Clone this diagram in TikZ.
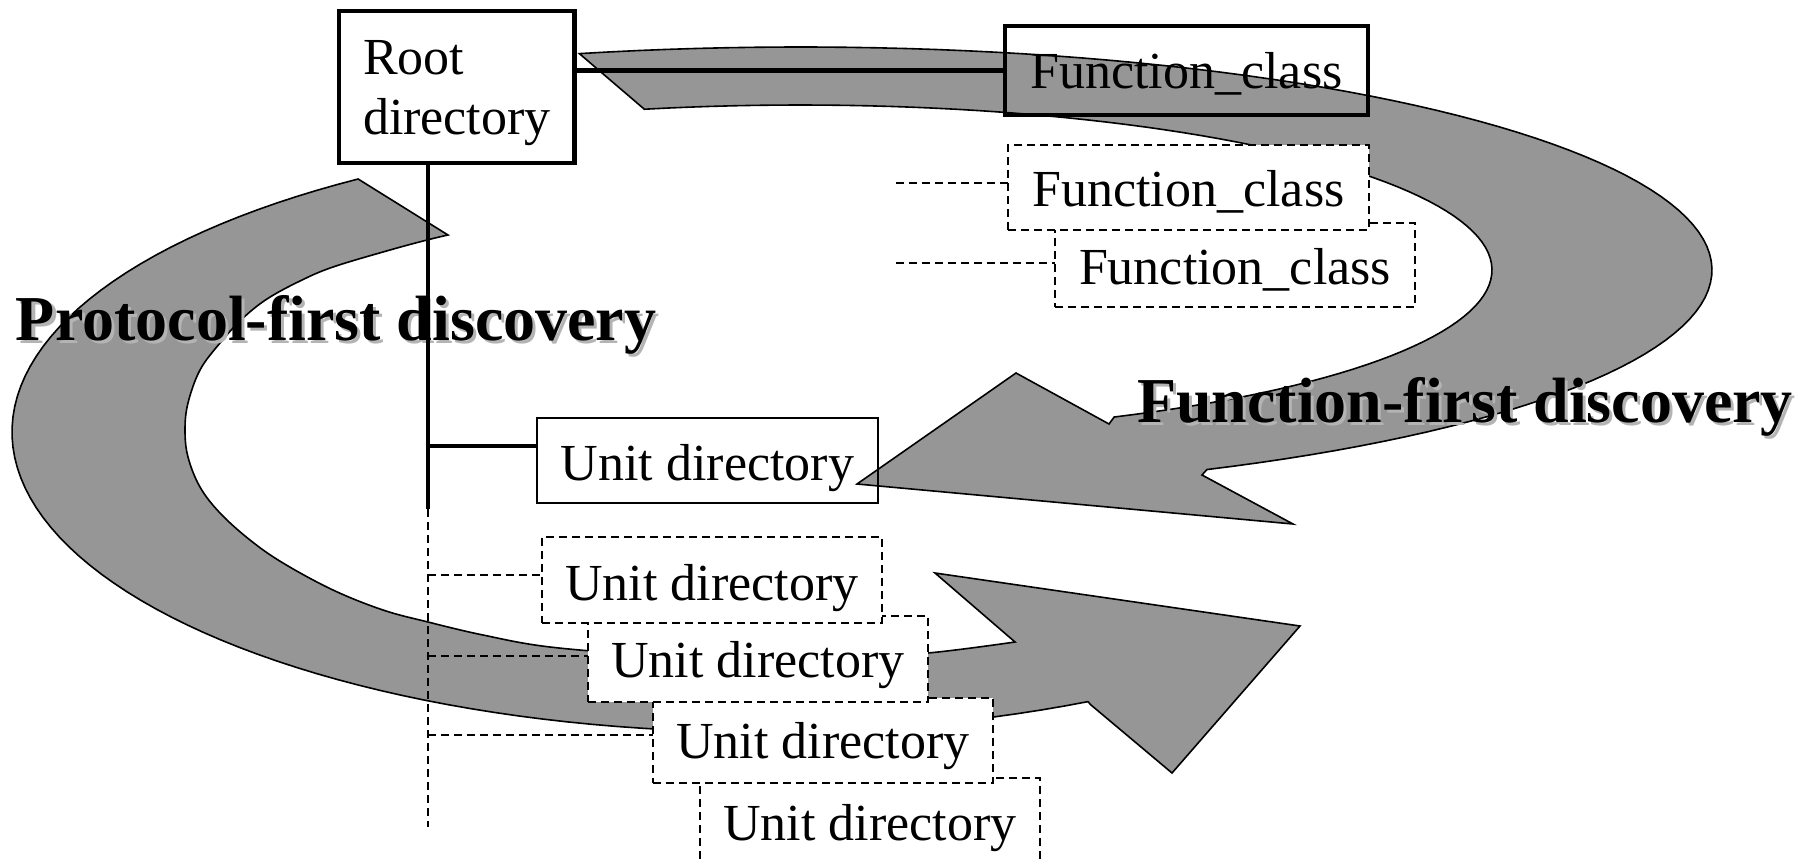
\documentclass[tikz,border=0pt]{standalone}
\usepackage{fontspec}
\setmainfont{Liberation Serif}
\definecolor{arrowgray}{RGB}{150,150,150}
\definecolor{shadowgray}{RGB}{180,180,180}
\begin{document}
\begin{tikzpicture}[x=1pt,y=-1pt,
  every node/.style={inner sep=0pt, outer sep=0pt},
  reg/.style={font=\fontsize{52}{60}\selectfont},
  ubox/.style={reg, draw, anchor=north west, minimum width=340pt, text height=62pt, text depth=24pt},
  thinbox/.style={ubox, line width=1.4pt},
  dbox/.style={ubox, line width=1.6pt, dash pattern=on 8pt off 5pt, fill=white},
  thickbox/.style={reg, draw, line width=4.5pt, anchor=north west},
  bigtxt/.style={font=\fontsize{64}{70}\selectfont\bfseries, anchor=base west},
  shadowtxt/.style={bigtxt, text=shadowgray},
  curved/.style={fill=arrowgray, draw=black, line width=1.6pt, line join=miter},
  thickline/.style={line width=4.5pt},
  dline/.style={line width=1.6pt, dash pattern=on 8pt off 5pt}
]
\useasboundingbox (0,0) rectangle (1806,862);

% Function-first arrow (clockwise, top right)
\draw[curved] plot[domain=-104:63.5, samples=90] ({800+912*cos(\x)},{270+223*sin(\x)})
  -- (1202,475) -- (1293,524) -- (857,484) -- (1016,373) -- (1109,424)
  -- plot[domain=63:-103, samples=90] ({800+692*cos(\x)},{270+165*sin(\x)}) -- cycle;

% Protocol-first arrow (counter-clockwise, left)
\draw[curved] plot[domain=237.5:64, samples=90] ({760+748*cos(\x)},{432+300*sin(\x)})
  -- (1091,705) -- (1172,773) -- (1300,626) -- (935,573) -- (1015,642)
  -- plot[smooth, tension=0.6] coordinates {(1015,642) (928,653) (830,659) (750,660) (660,656) (550,647)
     (483,635) (428,622) (383,610) (333,590) (283,563) (250,540) (220,513) (200,487) (188,457) (185,430)
     (188,403) (200,370) (220,343) (242,319) (267,299) (300,281) (333,267) (390,250) (427,240) (448,235)}
  -- cycle;

% titles with shadows
\node[shadowtxt] (pshadow) at (19,343) {Protocol-first discovery};
\node[bigtxt] (ptxt) at (16,340) {Protocol-first discovery};
\node[shadowtxt] (fshadow) at (1140,425) {Function-first discovery};
\node[bigtxt] (ftxt) at (1137,422) {Function-first discovery};

% boxes
\node[thickbox, align=left, inner xsep=24pt, minimum height=152pt] (root) at (339,11) {\rule{0pt}{47pt}Root\\directory};
\node[thickbox, minimum width=363pt, text height=62pt, text depth=27pt] (fcm) at (1005,26) {Function\_class};
\node[dbox, minimum width=360pt, text height=61pt, text depth=23pt] (fc2) at (1055,223) {Function\_class};
\node[dbox, minimum width=361pt, text height=61pt, text depth=24pt] (fc1) at (1008,145) {Function\_class};

\node[dbox, text depth=30pt] (u4) at (700,778) {Unit directory};
\node[dbox, text height=60pt, text depth=25pt] (u3) at (653,698) {Unit directory};
\node[dbox, text height=61pt, text depth=25pt] (u2) at (588,616) {Unit directory};
\node[dbox, text height=63pt, text depth=23pt] (u1) at (542,537) {Unit directory};
\node[thinbox, minimum width=341pt, text height=62pt, text depth=23pt] (u0) at (537,418) {Unit directory};

% connectors
\coordinate (trunk) at (428,509);
\coordinate (trunkend) at (428,827);
\coordinate (fcstub) at (896,0);
\coordinate (j0) at (428,446);
\draw[thickline] (root.east |- fcm.west) -- (fcm.west);
\draw[thickline] (root.south -| trunk) -- (trunk);
\draw[thickline] (j0) -- (j0 -| u0.west);
\draw[dline] (trunk) -- (trunkend);
\coordinate (c1) at ([yshift=5pt]u1.west);
\coordinate (c2) at ([yshift=3pt]u2.west);
\coordinate (c3) at ([yshift=5.5pt]u3.west);
\draw[dline] (c1 -| trunk) -- (c1);
\draw[dline] (c2 -| trunk) -- (c2);
\draw[dline] (c3 -| trunk) -- (c3);
\coordinate (f1) at ([yshift=4.5pt]fc1.west);
\coordinate (f2) at ([yshift=2pt]fc2.west);
\draw[dline] (f1 -| fcstub) -- (f1);
\draw[dline] (f2 -| fcstub) -- (f2);
\end{tikzpicture}
\end{document}
